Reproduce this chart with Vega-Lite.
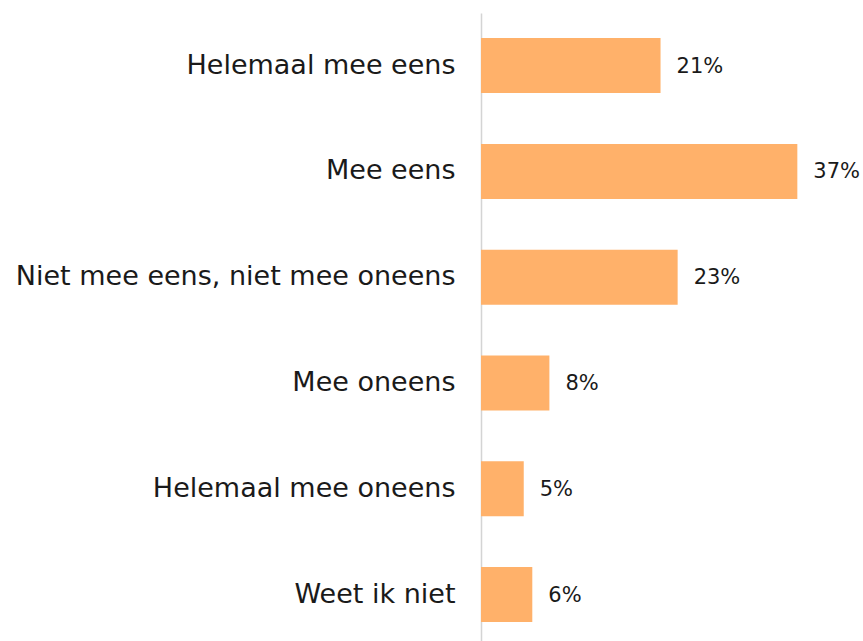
{
  "$schema": "https://vega.github.io/schema/vega-lite/v6.json",
  "autosize": {"type": "none"},
  "width": 382,
  "height": 628,
  "padding": {"left": 481, "top": 13, "right": 0, "bottom": 0},
  "background": "white",
  "config": {"view": {"stroke": null}, "font": "DejaVu Sans"},
  "data": {
    "values": [
      {"antwoord": "Helemaal mee eens", "aandeel": 0.21},
      {"antwoord": "Mee eens", "aandeel": 0.37},
      {"antwoord": "Niet mee eens, niet mee oneens", "aandeel": 0.23},
      {"antwoord": "Mee oneens", "aandeel": 0.08},
      {"antwoord": "Helemaal mee oneens", "aandeel": 0.05},
      {"antwoord": "Weet ik niet", "aandeel": 0.06}
    ]
  },
  "encoding": {
    "y": {
      "field": "antwoord",
      "type": "nominal",
      "sort": null,
      "scale": {"paddingInner": 0.48, "paddingOuter": 0.208, "align": 0.57},
      "axis": {
        "title": null,
        "ticks": false,
        "labelPadding": 26,
        "labelFontSize": 27,
        "labelColor": "#1a1a1a",
        "labelLimit": 600,
        "labelBaseline": "middle",
        "domainColor": "#d4d4d4",
        "domainWidth": 1.5
      }
    },
    "x": {
      "field": "aandeel",
      "type": "quantitative",
      "scale": {"domain": [0, 0.4468], "nice": false},
      "axis": null
    }
  },
  "layer": [
    {"mark": {"type": "bar", "color": "#FFB16A", "x": 1}},
    {
      "mark": {"type": "text", "align": "left", "baseline": "middle", "dx": 16, "dy": 1, "fontSize": 21, "color": "#1a1a1a"},
      "encoding": {"text": {"field": "aandeel", "type": "quantitative", "format": ".0%"}}
    }
  ]
}
